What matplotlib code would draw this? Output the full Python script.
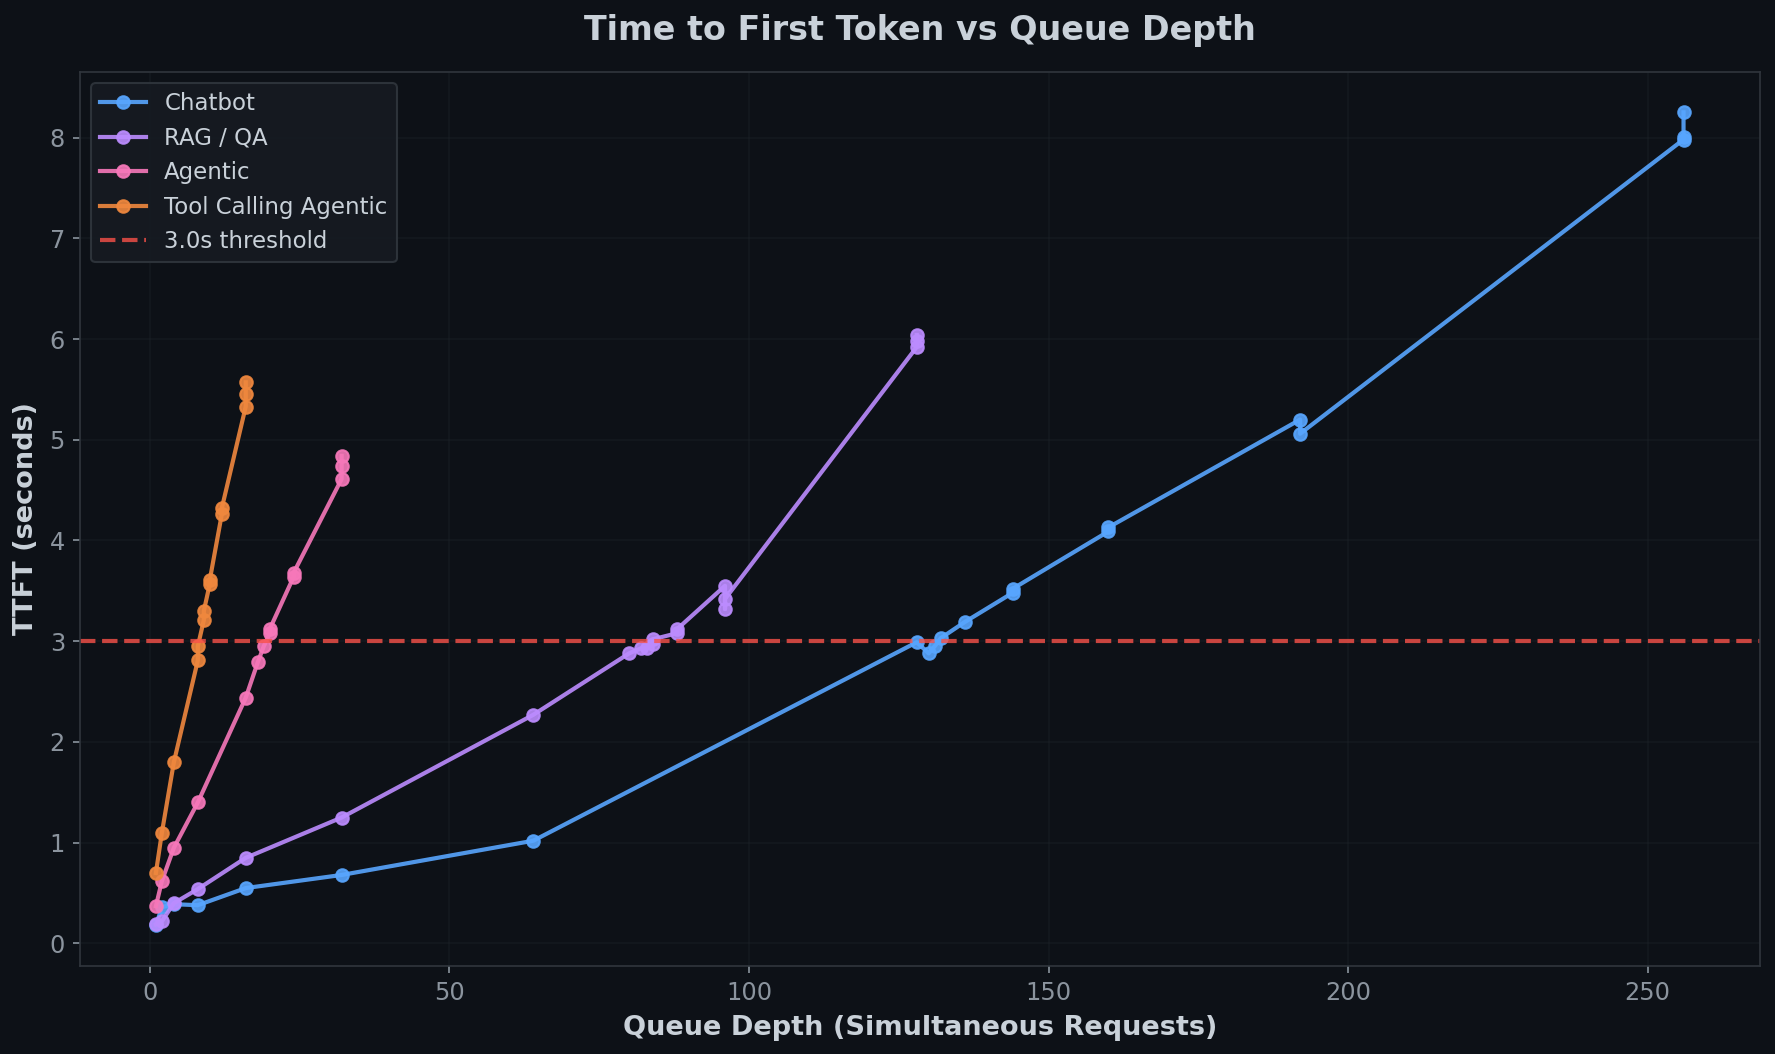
import matplotlib
matplotlib.use("Agg")
import matplotlib.pyplot as plt

# TTFT measurements per workload (repeated queue depths = repeated runs)
chat_x = [1, 2, 4, 8, 16, 32, 64, 128, 130, 131, 132, 136, 144, 144, 160, 160, 192, 192, 256, 256, 256]
chat_y = [0.18, 0.36, 0.39, 0.38, 0.55, 0.68, 1.02, 2.99, 2.88, 2.95, 3.03, 3.19, 3.48, 3.52, 4.09, 4.13, 5.20, 5.06, 7.98, 8.01, 8.25]

rag_x = [1, 2, 4, 8, 16, 32, 64, 80, 82, 83, 84, 84, 88, 88, 96, 96, 96, 128, 128, 128]
rag_y = [0.19, 0.22, 0.40, 0.54, 0.85, 1.25, 2.27, 2.88, 2.93, 2.93, 2.97, 3.02, 3.08, 3.12, 3.55, 3.32, 3.42, 5.92, 5.98, 6.04]

agent_x = [1, 2, 4, 8, 16, 18, 19, 20, 20, 24, 24, 32, 32, 32]
agent_y = [0.37, 0.62, 0.95, 1.40, 2.44, 2.79, 2.95, 3.08, 3.12, 3.64, 3.68, 4.61, 4.74, 4.84]

tool_x = [1, 2, 4, 8, 8, 9, 9, 10, 10, 12, 12, 16, 16, 16]
tool_y = [0.70, 1.10, 1.80, 2.81, 2.95, 3.21, 3.30, 3.57, 3.61, 4.26, 4.32, 5.33, 5.45, 5.57]

threshold = 3.0

bg = '#0d1117'
txt = '#c9d1d9'
muted = '#8b949e'
edge = '#30363d'

fig, ax = plt.subplots(figsize=(1775/150, 1054/150), dpi=150)
fig.patch.set_facecolor(bg)
ax.set_facecolor(bg)
fig.subplots_adjust(left=0.0448, right=0.9915, top=0.932, bottom=0.0835)

ax.plot(chat_x, chat_y, marker='o', color='#58a6ff', lw=2, ms=6, alpha=0.9, label='Chatbot')
ax.plot(rag_x, rag_y, marker='o', color='#bc8cff', lw=2, ms=6, alpha=0.9, label='RAG / QA')
ax.plot(agent_x, agent_y, marker='o', color='#f778ba', lw=2, ms=6, alpha=0.9, label='Agentic')
ax.plot(tool_x, tool_y, marker='o', color='#f0883e', lw=2, ms=6, alpha=0.9, label='Tool Calling Agentic')
ax.axhline(threshold, color='#f85149', ls='--', lw=2, alpha=0.8, label='3.0s threshold')

ax.set_title('Time to First Token vs Queue Depth', color=txt, fontsize=16, fontweight='bold', pad=15)
ax.set_xlabel('Queue Depth (Simultaneous Requests)', color=txt, fontsize=13, fontweight='bold', labelpad=5)
ax.set_ylabel('TTFT (seconds)', color=txt, fontsize=13, fontweight='bold', labelpad=5)

ax.tick_params(colors=muted, labelsize=11.5)
for s in ax.spines.values():
    s.set_color(edge)
ax.grid(True, color='#21262d', alpha=0.35, lw=0.8)

leg = ax.legend(loc='upper left', fontsize=11, facecolor='#161b22', edgecolor=edge, framealpha=0.9)
for t in leg.get_texts():
    t.set_color(txt)

fig.savefig('out.png', dpi=150, facecolor=bg)
